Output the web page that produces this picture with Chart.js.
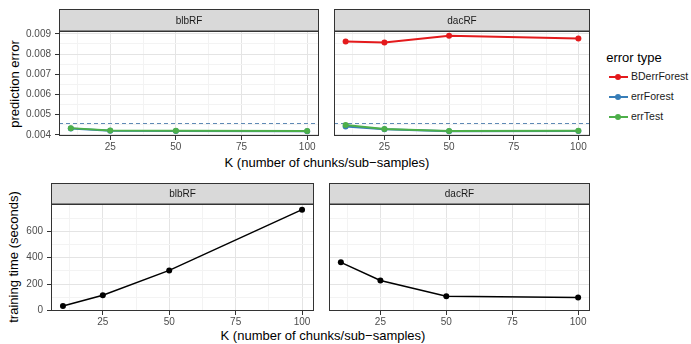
<!DOCTYPE html>
<html>
<head>
<meta charset="utf-8">
<script src="https://cdn.jsdelivr.net/npm/chart.js@4.4.1/dist/chart.umd.min.js"></script>
<style>
  body { margin: 0; background: #fff; font-family: "Liberation Sans", Arial, sans-serif; }
  #wrap { position: relative; width: 691px; height: 344px; overflow: hidden; }
  #wrap canvas { position: absolute; }
  .txt { position: absolute; white-space: nowrap; transform: translate(-50%, -50%); color: #000; font-size: 13px; }
  .ytitle { transform: translate(-50%, -50%) rotate(-90deg); }
  .leg { position: absolute; left: 606px; font-size: 10.5px; color: #1a1a1a; white-space: nowrap; }
  .leg .key { position: absolute; left: 3px; top: 0; width: 19px; height: 2px; margin-top: -1px; }
  .leg .dot { position: absolute; left: 9px; top: -3px; width: 6px; height: 6px; border-radius: 50%; }
  .leg span.t { position: absolute; left: 25px; top: -7px; }
</style>
</head>
<body>
<div id="wrap">
  <div class="txt ytitle" style="left:14px; top:84px;">prediction error</div>
  <div class="txt" style="left:327px; top:162px;">K (number of chunks/sub&minus;samples)</div>
  <div class="txt ytitle" style="left:13px; top:257px;">training time (seconds)</div>
  <div class="txt" style="left:323px; top:335px;">K (number of chunks/sub&minus;samples)</div>
  <div class="txt" style="left:634px; top:57px; transform:translate(-50%,-50%);">error type</div>
  <div id="legend"></div>
</div>
<script>
// K values (x axis) and facet names
const K = [10, 25, 50, 100];
const facets = ['blbRF', 'dacRF'];
const xTicks = [25, 50, 75, 100];

// prediction error, top row
const blbErrForest = [0.00431, 0.00420, 0.00419, 0.00418];
const blbErrTest = [0.00433, 0.00421, 0.00420, 0.00419];
const dacBDerrForest = [0.00862, 0.00857, 0.00891, 0.00877];
const dacErrForest = [0.00441, 0.00427, 0.00418, 0.00419];
const dacErrTest = [0.00448, 0.00429, 0.00419, 0.00420];
const refError = 0.0046; // dashed reference line
const errTicks = [0.004, 0.005, 0.006, 0.007, 0.008, 0.009];

// training time, bottom row
const blbTime = [35, 116, 304, 763];
const dacTime = [365, 228, 109, 99];
const timeTicks = [0, 200, 400, 600];

const seriesNames = ['BDerrForest', 'errForest', 'errTest'];
const seriesColors = ['#e41a1c', '#377eb8', '#4daf4a'];

const wrap = document.getElementById('wrap');
const tickFont = { family: '"Liberation Sans", Arial, sans-serif', size: 10 };

// majors plus midpoints (ggplot minor breaks) inside [min, max]
function withMinor(majors, min, max) {
  const step = majors[1] - majors[0];
  const out = [];
  for (let v = majors[0] - step / 2; v <= majors[majors.length - 1] + step / 2 + 1e-12; v += step / 2) {
    if (v >= min && v <= max) out.push(+v.toFixed(6));
  }
  return out;
}
function isMajor(majors, v) {
  return majors.some(m => Math.abs(m - v) < 1e-9);
}

const facetPlugin = {
  id: 'facet',
  beforeDatasetsDraw(chart, args, opts) {
    if (opts.hline == null) return;
    const { ctx, chartArea } = chart;
    const y = Math.round(chart.scales.y.getPixelForValue(opts.hline)) + 0.5;
    ctx.save();
    ctx.strokeStyle = '#5f8ab5';
    ctx.lineWidth = 1;
    ctx.setLineDash([4, 3]);
    ctx.beginPath();
    ctx.moveTo(chartArea.left, y);
    ctx.lineTo(chartArea.right, y);
    ctx.stroke();
    ctx.restore();
  },
  afterDraw(chart, args, opts) {
    const { ctx, chartArea } = chart;
    const l = chartArea.left + 0.5, r = chartArea.right - 0.5;
    ctx.save();
    ctx.fillStyle = '#d9d9d9';
    ctx.fillRect(l, 0.5, r - l, chartArea.top - 0.5);
    ctx.strokeStyle = '#333';
    ctx.lineWidth = 1;
    ctx.strokeRect(l, 0.5, r - l, chartArea.top - 0.5);
    ctx.strokeRect(l, chartArea.top + 0.5, r - l, chartArea.bottom - chartArea.top - 1);
    ctx.fillStyle = '#1a1a1a';
    ctx.font = '10px "Liberation Sans", Arial, sans-serif';
    ctx.textAlign = 'center';
    ctx.textBaseline = 'middle';
    ctx.fillText(opts.title, (l + r) / 2, chartArea.top / 2 + 1);
    ctx.restore();
  }
};

function panel(p) {
  const cv = document.createElement('canvas');
  const xh = 18;
  const stripH = p.plotTop - p.stripTop;
  cv.width = p.yw + (p.right - p.left);
  cv.height = (p.plotBottom - p.stripTop) + xh;
  cv.style.left = (p.left - p.yw) + 'px';
  cv.style.top = p.stripTop + 'px';
  wrap.appendChild(cv);

  const xAll = withMinor(xTicks, p.xMin, p.xMax);
  const yAll = withMinor(p.yTicks, p.yMin, p.yMax);

  new Chart(cv, {
    type: 'line',
    data: { datasets: p.datasets },
    options: {
      responsive: false,
      animation: false,
      devicePixelRatio: 1,
      layout: { padding: { top: stripH, left: 0, right: 0, bottom: 0 } },
      elements: { line: { tension: 0 } },
      plugins: {
        legend: { display: false },
        tooltip: { enabled: false },
        facet: { title: p.title, hline: p.hline }
      },
      scales: {
        x: {
          type: 'linear',
          min: p.xMin,
          max: p.xMax,
          afterFit: s => { s.height = xh; },
          afterBuildTicks: s => { s.ticks = xAll.map(v => ({ value: v })); },
          border: { display: false },
          grid: {
            color: c => isMajor(xTicks, c.tick.value) ? '#e4e4e4' : '#f3f3f3',
            tickColor: c => isMajor(xTicks, c.tick.value) ? '#333' : 'rgba(0,0,0,0)',
            tickLength: 4
          },
          ticks: {
            autoSkip: false,
            maxRotation: 0,
            padding: 1,
            color: '#4d4d4d',
            font: tickFont,
            callback: v => isMajor(xTicks, v) ? String(v) : ''
          }
        },
        y: {
          min: p.yMin,
          max: p.yMax,
          afterFit: s => { s.width = p.yw; },
          afterBuildTicks: s => { s.ticks = yAll.map(v => ({ value: v })); },
          border: { display: false },
          grid: {
            color: c => isMajor(p.yTicks, c.tick.value) ? '#e4e4e4' : '#f3f3f3',
            tickColor: c => isMajor(p.yTicks, c.tick.value) ? '#333' : 'rgba(0,0,0,0)',
            tickLength: 4,
            drawTicks: p.yw > 0
          },
          ticks: {
            display: p.yw > 0,
            autoSkip: false,
            padding: 4,
            color: '#4d4d4d',
            font: tickFont,
            callback: v => isMajor(p.yTicks, v) ? p.fmt(v) : ''
          }
        }
      }
    },
    plugins: [facetPlugin]
  });
}

function series(name, values, color, order, width, radius) {
  return {
    label: name,
    data: K.map((k, i) => ({ x: k, y: values[i] })),
    borderColor: color,
    backgroundColor: color,
    borderWidth: width,
    pointRadius: radius,
    pointBorderWidth: 0,
    order: order
  };
}

const errFmt = v => v.toFixed(3);
const timeFmt = v => String(Math.round(v));
const errRange = { yMin: 0.00394, yMax: 0.00914 };
const timeRange = { yMin: -3, yMax: 806 };
const xRange = { xMin: 5.5, xMax: 104.5 };

// top row: prediction error
panel(Object.assign({
  title: facets[0], left: 59, right: 323, yw: 59,
  stripTop: 9, plotTop: 31, plotBottom: 136,
  yTicks: errTicks, fmt: errFmt, hline: refError,
  datasets: [
    series(seriesNames[1], blbErrForest, seriesColors[1], 1, 2, 3),
    series(seriesNames[2], blbErrTest, seriesColors[2], 0, 2, 3)
  ]
}, errRange, xRange));

panel(Object.assign({
  title: facets[1], left: 330, right: 594, yw: 0,
  stripTop: 9, plotTop: 31, plotBottom: 136,
  yTicks: errTicks, fmt: errFmt, hline: refError,
  datasets: [
    series(seriesNames[0], dacBDerrForest, seriesColors[0], 2, 2, 3),
    series(seriesNames[1], dacErrForest, seriesColors[1], 1, 2, 3),
    series(seriesNames[2], dacErrTest, seriesColors[2], 0, 2, 3)
  ]
}, errRange, xRange));

// bottom row: training time
panel(Object.assign({
  title: facets[0], left: 51, right: 318, yw: 51,
  stripTop: 183, plotTop: 204, plotBottom: 311,
  yTicks: timeTicks, fmt: timeFmt, hline: null,
  datasets: [series('time', blbTime, '#000', 0, 1.5, 3)]
}, timeRange, xRange));

panel(Object.assign({
  title: facets[1], left: 325, right: 594, yw: 0,
  stripTop: 183, plotTop: 204, plotBottom: 311,
  yTicks: timeTicks, fmt: timeFmt, hline: null,
  datasets: [series('time', dacTime, '#000', 0, 1.5, 3)]
}, timeRange, xRange));

// shared legend
const legend = document.getElementById('legend');
const legendRows = [77, 97, 117];
seriesNames.forEach((name, i) => {
  const row = document.createElement('div');
  row.className = 'leg';
  row.style.top = legendRows[i] + 'px';
  row.innerHTML = '<div class="key" style="background:' + seriesColors[i] + '"></div>' +
    '<div class="dot" style="background:' + seriesColors[i] + '"></div>' +
    '<span class="t">' + name + '</span>';
  legend.appendChild(row);
});
</script>
</body>
</html>
